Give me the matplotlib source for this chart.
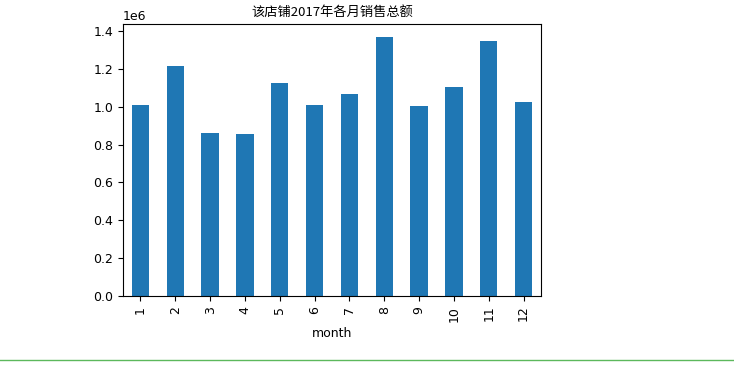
import matplotlib
matplotlib.use("Agg")
import matplotlib.pyplot as plt
from matplotlib.lines import Line2D
import numpy as np

months = [1, 2, 3, 4, 5, 6, 7, 8, 9, 10, 11, 12]
sales = [1.010e6, 1.215e6, 0.859e6, 0.853e6, 1.125e6, 1.010e6,
         1.065e6, 1.368e6, 1.003e6, 1.104e6, 1.347e6, 1.025e6]
title = "该店铺2017年各月销售总额"

plt.rcParams['font.family'] = ['DejaVu Sans', 'Noto Sans CJK SC']
plt.rcParams['font.size'] = 9

fig = plt.figure(figsize=(7.34, 3.67), dpi=100)
ax = fig.add_axes([0.1676, 0.1935, 0.5694, 0.7411])

x = np.arange(len(months))
ax.bar(x, sales, width=0.5, color='#1f77b4')
ax.set_xlim(-0.5, len(months) - 0.5)
ax.set_ylim(0, max(sales) * 1.05)
ax.set_xticks(x)
ax.set_xticklabels([str(m) for m in months], rotation=90)
ax.set_xlabel("month")
ax.set_title(title, fontsize=9.5, family=['Noto Sans CJK SC', 'DejaVu Sans'])

# jupyter output separator line
fig.add_artist(Line2D([0, 1], [0.019, 0.019], color='#5cb85c', linewidth=1.0,
                      transform=fig.transFigure))

fig.savefig("out.png", dpi=100)
